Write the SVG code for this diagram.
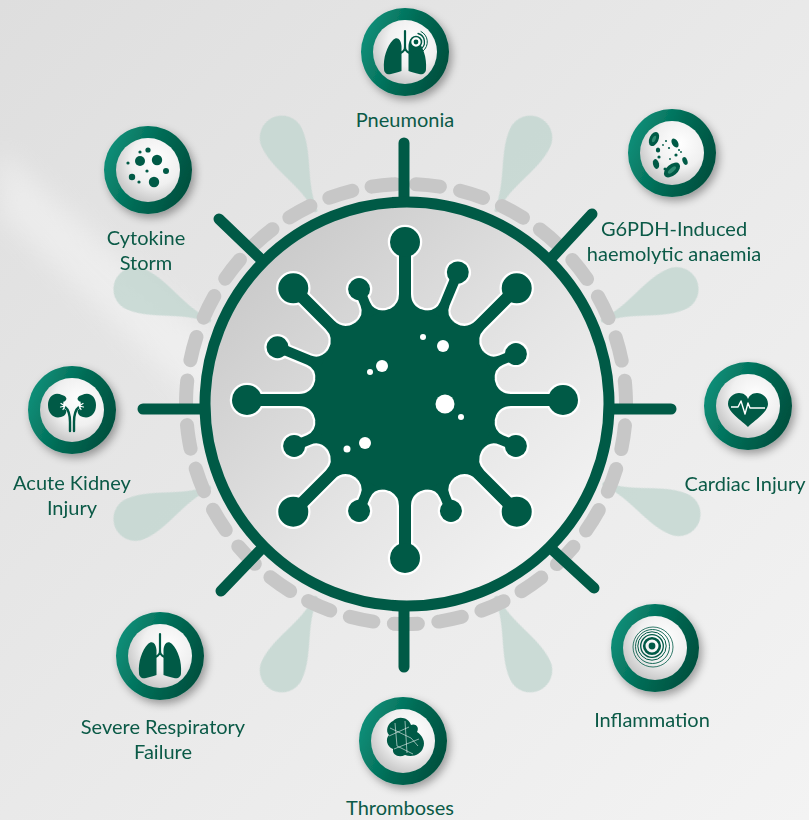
<svg xmlns="http://www.w3.org/2000/svg" xmlns:xlink="http://www.w3.org/1999/xlink" width="809" height="820" viewBox="0 0 809 820">
  <style>
    .lbl { font-family: Lato, "Open Sans", "Liberation Sans", sans-serif; font-size: 20px; fill: #0b5a47; text-anchor: middle; }
    .spike { stroke: #005a46; stroke-width: 11; stroke-linecap: round; fill: none; }
    .drop { fill: #c2d6d0; opacity: 0.8; }
    .ico { fill: #005a46; }
    .icoLine { fill: none; stroke: #005a46; stroke-linecap: round; }
    .ring { fill: url(#ringGrad); filter: url(#shadow); }
    .face { fill: url(#faceGrad); }
  </style>
  <defs>
    <linearGradient id="bgGrad" x1="0" y1="0" x2="1" y2="1">
      <stop offset="0" stop-color="#dedede"/>
      <stop offset="0.5" stop-color="#e9e9e9"/>
      <stop offset="1" stop-color="#f3f3f3"/>
    </linearGradient>
    <linearGradient id="discGrad" x1="0" y1="0" x2="1" y2="1">
      <stop offset="0" stop-color="#c2c2c2"/>
      <stop offset="0.55" stop-color="#e4e4e4"/>
      <stop offset="1" stop-color="#f8f8f8"/>
    </linearGradient>
    <linearGradient id="ringGrad" x1="0" y1="0.3" x2="1" y2="0.7">
      <stop offset="0" stop-color="#10907a"/>
      <stop offset="0.5" stop-color="#006b55"/>
      <stop offset="1" stop-color="#004e3d"/>
    </linearGradient>
    <radialGradient id="faceGrad" cx="0.62" cy="0.35" r="0.78">
      <stop offset="0" stop-color="#ffffff"/>
      <stop offset="0.5" stop-color="#f0f0f0"/>
      <stop offset="1" stop-color="#b9b9b9"/>
    </radialGradient>
    <filter id="shadow" x="-40%" y="-40%" width="180%" height="180%">
      <feDropShadow dx="3" dy="4" stdDeviation="4" flood-color="#000" flood-opacity="0.35"/>
    </filter>
    <filter id="soft" x="-20%" y="-20%" width="140%" height="140%">
      <feGaussianBlur stdDeviation="12"/>
    </filter>

    <!-- pale droplet pointing up from the centre -->
    <path id="drop" d="M -1.5,-212 C -3,-245 -22,-267 -22,-294 A 22 22 0 0 1 22,-294 C 22,-267 3,-245 1.5,-212 Z"/>

    <!-- virus spikes, pointing up from the body centre -->
    <g id="bigSpike">
      <path d="M -6,-158 L -6,-106 Q -6,-94 -18,-90 L 18,-90 Q 6,-94 6,-106 L 6,-158 Z"/>
      <circle cx="0" cy="-158" r="15"/>
    </g>
    <g id="smallSpikeA">
      <path d="M -5,-120 L -5,-104 Q -5,-94 -16,-90.4 L 16,-90.4 Q 5,-94 5,-104 L 5,-120 Z"/>
      <circle cx="0" cy="-120" r="11"/>
    </g>
    <g id="smallSpikeB">
      <path d="M -5,-138 L -5,-104 Q -5,-94 -16,-90.4 L 16,-90.4 Q 5,-94 5,-104 L 5,-138 Z"/>
      <circle cx="0" cy="-138" r="11"/>
    </g>
    <g id="virusShape">
      <circle cx="0" cy="0" r="92"/>
      <use href="#bigSpike"/>
      <use href="#bigSpike" transform="rotate(45)"/>
      <use href="#bigSpike" transform="rotate(90)"/>
      <use href="#bigSpike" transform="rotate(135)"/>
      <use href="#bigSpike" transform="rotate(180)"/>
      <use href="#bigSpike" transform="rotate(225)"/>
      <use href="#bigSpike" transform="rotate(270)"/>
      <use href="#bigSpike" transform="rotate(315)"/>
      <use href="#smallSpikeB" transform="rotate(22.5)"/>
      <use href="#smallSpikeA" transform="rotate(67.5)"/>
      <use href="#smallSpikeA" transform="rotate(112.5)"/>
      <use href="#smallSpikeA" transform="rotate(157.5)"/>
      <use href="#smallSpikeA" transform="rotate(202.5)"/>
      <use href="#smallSpikeA" transform="rotate(247.5)"/>
      <use href="#smallSpikeB" transform="rotate(292.5)"/>
      <use href="#smallSpikeA" transform="rotate(337.5)"/>
    </g>

    <!-- one lung (left), hilum on the right -->
    <path id="lung" d="M -3.5,-6 C -4,-13 -8,-16 -12,-12 C -18,-6 -22,6 -21,17 C -21,21 -18,23 -14,22 C -10,21 -6,20 -3.5,19 Z"/>
    <!-- one kidney, hilum on the right -->
    <path id="kidney" d="M 2,-11 C -6,-15 -12,-9 -12,-1 C -12,8 -6,13 1,11 C 5,10 7,7 6,4 C 3,3 2,-3 5,-5 C 8,-7 6,-10 2,-11 Z"/>
  </defs>

  <!-- backdrop -->
  <rect width="809" height="820" fill="url(#bgGrad)"/>
  <polygon points="0,150 0,215 320,520 360,470" fill="#ffffff" opacity="0.35" filter="url(#soft)"/>

  <!-- pale droplets around the particle -->
  <g id="droplets" class="drop" transform="translate(406,404)">
    <use href="#drop" transform="rotate(-25)"/>
    <use href="#drop" transform="rotate(25)"/>
    <use href="#drop" transform="rotate(67)"/>
    <use href="#drop" transform="rotate(112)"/>
    <use href="#drop" transform="rotate(155)"/>
    <use href="#drop" transform="rotate(205)"/>
    <use href="#drop" transform="rotate(247)"/>
    <use href="#drop" transform="rotate(293)"/>
  </g>

  <!-- dashed halo -->
  <circle cx="406" cy="404" r="220" fill="none" stroke="#c7c7c7" stroke-width="14" stroke-linecap="round" stroke-dasharray="24 20.6" transform="rotate(-99 406 404)"/>

  <!-- spokes from the ring towards each node -->
  <g id="connectors" class="spike">
    <line x1="404" y1="200" x2="404" y2="143"/>
    <line x1="544" y1="266" x2="592" y2="214"/>
    <line x1="608" y1="409" x2="671" y2="409"/>
    <line x1="544" y1="542" x2="594" y2="588"/>
    <line x1="404" y1="606" x2="404" y2="667"/>
    <line x1="268" y1="542" x2="221" y2="591"/>
    <line x1="206" y1="409" x2="143" y2="409"/>
    <line x1="268" y1="266" x2="219" y2="219"/>
  </g>

  <!-- central particle -->
  <g id="virus">
    <circle cx="407" cy="404" r="202" fill="url(#discGrad)" stroke="#005a46" stroke-width="11"/>
    <use href="#virusShape" transform="translate(405,400)" fill="none" stroke="#ffffff" stroke-width="4.5"/>
    <use href="#virusShape" transform="translate(405,400)" fill="#005a46"/>
    <g fill="#ffffff">
      <circle cx="423" cy="337" r="3"/>
      <circle cx="443" cy="346" r="6"/>
      <circle cx="382" cy="366" r="6"/>
      <circle cx="370" cy="372" r="3"/>
      <circle cx="445" cy="404" r="9.5"/>
      <circle cx="461" cy="417" r="3"/>
      <circle cx="365" cy="443" r="6"/>
      <circle cx="347" cy="449" r="3.5"/>
    </g>
  </g>

  <!-- Pneumonia -->
  <g id="pneumonia">
    <g transform="translate(405,52)">
      <circle class="ring" r="44"/>
      <circle class="face" r="32"/>
      <line class="icoLine" x1="0" y1="-21" x2="0" y2="-4" stroke-width="2.2"/>
      <path class="icoLine" d="M 0,-5 Q 0,-1 -4.5,1 M 0,-5 Q 0,-1 4.5,1" stroke-width="2"/>
      <use href="#lung" class="ico"/>
      <use href="#lung" class="ico" transform="scale(-1,1)"/>
      <circle cx="11" cy="-10" r="5.5" fill="#ffffff" stroke="#005a46" stroke-width="1.6"/>
      <circle cx="11" cy="-10" r="2.4" class="ico"/>
      <path class="icoLine" d="M 13,-18.5 A 8.7 8.7 0 0 1 15,-2.5" stroke-width="1.3"/>
      <path class="icoLine" d="M 16,-20.5 A 11.5 11.5 0 0 1 18,-1" stroke-width="1"/>
    </g>
    <text class="lbl" x="405" y="127">Pneumonia</text>
  </g>

  <!-- G6PDH-induced haemolytic anaemia -->
  <g id="g6pdh">
    <g transform="translate(672,153)">
      <circle class="ring" r="44"/>
      <circle class="face" r="32"/>
      <g class="ico">
        <ellipse cx="-18" cy="-14" rx="4.5" ry="7.5" transform="rotate(25 -18 -14)"/>
        <ellipse cx="3" cy="-10" rx="3" ry="5" transform="rotate(-30 3 -10)"/>
        <ellipse cx="-16" cy="11" rx="3" ry="5" transform="rotate(-15 -16 11)"/>
        <ellipse cx="0" cy="17" rx="5.5" ry="9.5" transform="rotate(50 0 17)"/>
        <ellipse cx="13" cy="8" rx="2.4" ry="4" transform="rotate(-20 13 8)"/>
        <ellipse cx="-14" cy="-3" rx="2.2" ry="2.6"/>
        <circle cx="-6" cy="-12" r="1"/>
        <circle cx="-3" cy="-5" r="1.1"/>
        <circle cx="-13" cy="4" r="1.6"/>
        <circle cx="4" cy="2" r="1.6"/>
        <circle cx="7" cy="-3" r="1"/>
        <circle cx="-7" cy="16" r="1.5"/>
        <circle cx="9" cy="-1" r="0.9"/>
        <circle cx="-9" cy="-8" r="0.9"/>
        <circle cx="-2" cy="6" r="0.9"/>
      </g>
      <g fill="#2e8a72">
        <ellipse cx="-18" cy="-14" rx="1.6" ry="3.5" transform="rotate(25 -18 -14)"/>
        <ellipse cx="0" cy="17" rx="2" ry="5" transform="rotate(50 0 17)"/>
      </g>
    </g>
    <text class="lbl" x="674" y="236">G6PDH-Induced</text>
    <text class="lbl" x="674" y="261">haemolytic anaemia</text>
  </g>

  <!-- Cytokine storm -->
  <g id="cytokine">
    <g transform="translate(148,170)">
      <circle class="ring" r="44"/>
      <circle class="face" r="32"/>
      <g class="ico">
        <circle cx="-8" cy="-9" r="5"/>
        <circle cx="9" cy="-10" r="5.2"/>
        <circle cx="6" cy="12" r="5.2"/>
        <circle cx="-16" cy="7" r="3.2"/>
        <circle cx="18" cy="1" r="3"/>
        <circle cx="0" cy="-20" r="2.6"/>
        <circle cx="-8" cy="-18" r="1.6"/>
        <circle cx="-20" cy="-7" r="1.6"/>
        <circle cx="-1" cy="1" r="1.6"/>
        <circle cx="-9" cy="12" r="1.6"/>
      </g>
    </g>
    <text class="lbl" x="146" y="245">Cytokine</text>
    <text class="lbl" x="146" y="270">Storm</text>
  </g>

  <!-- Acute kidney injury -->
  <g id="kidney-injury">
    <g transform="translate(72,410)">
      <circle class="ring" r="44"/>
      <circle class="face" r="32"/>
      <use href="#kidney" class="ico" transform="translate(-12,-4)"/>
      <use href="#kidney" class="ico" transform="translate(12,-4) scale(-1,1)"/>
      <path class="icoLine" d="M -7,-3 C -3,0 -2,6 -2,12 L -2,21 M 7,-3 C 3,0 2,6 2,12 L 2,21" stroke-width="2.4"/>
      <path d="M -7,-4 l -4,-2.5 M -7,-4 l -4.5,1 M -7,-4 l -2,3.5 M -7,-4 l -1,-4 M 7,-4 l 4,-2.5 M 7,-4 l 4.5,1 M 7,-4 l 2,3.5 M 7,-4 l 1,-4" stroke="#ffffff" stroke-width="1.2" stroke-linecap="round" fill="none"/>
    </g>
    <text class="lbl" x="72" y="490">Acute Kidney</text>
    <text class="lbl" x="72" y="515">Injury</text>
  </g>

  <!-- Cardiac injury -->
  <g id="cardiac">
    <g transform="translate(748,406)">
      <circle class="ring" r="44"/>
      <circle class="face" r="32"/>
      <path class="ico" d="M 0,21 C -6,15 -20,6 -20,-2 C -20,-9 -14,-13 -9,-13 C -4,-13 -1,-10 0,-7 C 1,-10 4,-13 9,-13 C 14,-13 20,-9 20,-2 C 20,6 6,15 0,21 Z"/>
      <path d="M -17,1 L -10,1 L -7,-5 L -3,8 L 0,-3 L 2,2 L 17,2" fill="none" stroke="#ffffff" stroke-width="1.4" stroke-linejoin="round"/>
    </g>
    <text class="lbl" x="745" y="491">Cardiac Injury</text>
  </g>

  <!-- Inflammation -->
  <g id="inflammation">
    <g transform="translate(655,648)">
      <circle class="ring" r="44"/>
      <circle class="face" r="32"/>
      <g fill="none" stroke="#005a46">
        <circle cx="-2" cy="-1" r="20" stroke-width="0.8"/>
        <circle cx="-2.5" cy="-1.5" r="17" stroke-width="0.9"/>
        <circle cx="-3" cy="-2" r="14.2" stroke-width="1"/>
        <circle cx="-3" cy="-2" r="11.3" stroke-width="1.3"/>
        <circle cx="-3" cy="-2" r="7.8" stroke-width="2.6"/>
      </g>
      <circle cx="-3" cy="-2" r="3.4" class="ico"/>
    </g>
    <text class="lbl" x="652" y="727">Inflammation</text>
  </g>

  <!-- Severe respiratory failure -->
  <g id="respiratory">
    <g transform="translate(160,656)">
      <circle class="ring" r="44"/>
      <circle class="face" r="32"/>
      <line class="icoLine" x1="0" y1="-22" x2="0" y2="-4" stroke-width="2.2"/>
      <path class="icoLine" d="M 0,-5 Q 0,-1 -4.5,1 M 0,-5 Q 0,-1 4.5,1" stroke-width="2"/>
      <use href="#lung" class="ico"/>
      <use href="#lung" class="ico" transform="scale(-1,1)"/>
    </g>
    <text class="lbl" x="163" y="734">Severe Respiratory</text>
    <text class="lbl" x="163" y="759">Failure</text>
  </g>

  <!-- Thromboses -->
  <g id="thromboses">
    <g transform="translate(403,741)">
      <circle class="ring" r="44"/>
      <circle class="face" r="32"/>
      <path class="ico" d="M -10,-20 C -4,-26 6,-23 8,-16 C 12,-18 17,-14 14,-9 C 19,-6 23,1 20,7 C 18,13 10,17 2,14 C -4,17 -11,14 -10,8 C -16,6 -18,-2 -14,-6 C -18,-10 -15,-18 -10,-20 Z"/>
      <path d="M -13,-13 L 8,-3 L 15,5 M -8,-18 L -6,5 L 10,13 M -14,-5 L 6,-14 M -9,8 L 16,-2 M 2,-20 L 4,12" fill="none" stroke="#ffffff" stroke-width="0.7" opacity="0.8"/>
    </g>
    <text class="lbl" x="400" y="815">Thromboses</text>
  </g>
</svg>
